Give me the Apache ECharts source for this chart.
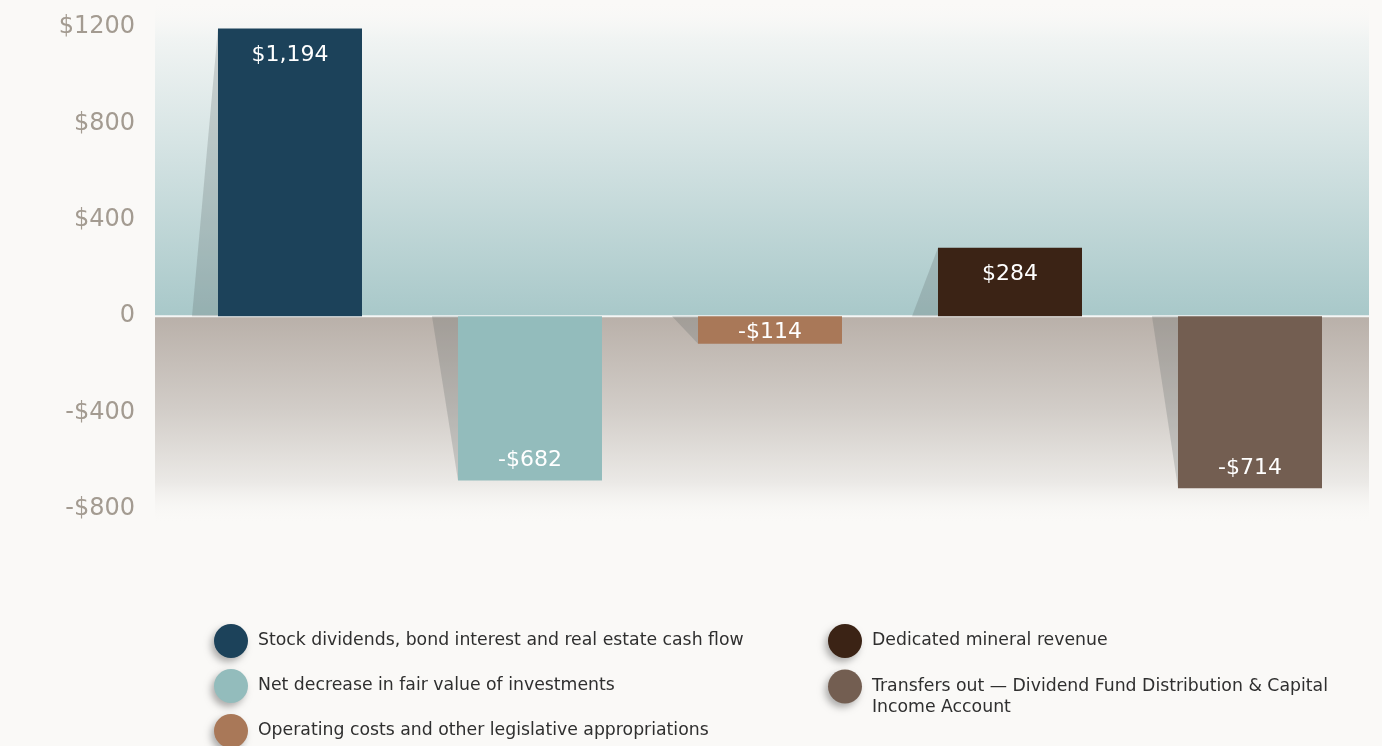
<!DOCTYPE html>
<html>
<head>
<meta charset="utf-8">
<script src="https://cdn.jsdelivr.net/npm/echarts@6/dist/echarts.min.js"></script>
<style>
html,body{margin:0;padding:0;background:#faf9f7;}
#c{width:1382px;height:746px;}
</style>
</head>
<body>
<div id="c"></div>
<script>
// ---- data ----
const categories = [
  'Stock dividends, bond interest and real estate cash flow',
  'Net decrease in fair value of investments',
  'Operating costs and other legislative appropriations',
  'Dedicated mineral revenue',
  'Transfers out \u2014 Dividend Fund Distribution & Capital Income Account'
];
const values = [1194, -682, -114, 284, -714];
const colors = ['#1c425a', '#93bcbc', '#a97858', '#3b2315', '#735e51'];
const yTicks = { min: -800, max: 1200, interval: 400 };

// ---- helpers ----
function money(v, commas) {
  if (v === 0) return '0';
  const a = Math.abs(v);
  const s = commas ? a.toLocaleString('en-US') : String(a);
  return (v < 0 ? '-$' : '$') + s;
}

const chart = echarts.init(document.getElementById('c'));
const barWidthRatio = 0.6;

const barSeries = categories.map((name, i) => {
  const v = values[i];
  const small = Math.abs(v) < 200;
  const pos = small ? 'inside' : (v >= 0 ? 'insideTop' : 'insideBottom');
  return {
    name: name,
    type: 'bar',
    z: 3,
    barWidth: (barWidthRatio * 100) + '%',
    barGap: '-100%',
    data: values.map((val, j) => (j === i ? val : '-')),
    itemStyle: { color: colors[i] },
    label: {
      show: true,
      position: pos,
      distance: v >= 0 ? 16 : 9,
      offset: small ? [0, 2] : [0, 0],
      color: '#ffffff',
      fontFamily: 'DejaVu Sans',
      fontSize: 22,
      formatter: p => money(p.value, true)
    }
  };
});

const shadowSeries = {
  type: 'custom',
  z: 2,
  silent: true,
  data: values.map((v, i) => [i, v]),
  renderItem: function (params, api) {
    const cat = api.value(0), val = api.value(1);
    const end = api.coord([cat, val]);
    const zero = api.coord([cat, 0]);
    const hw = api.size([1, 0])[0] * barWidthRatio / 2;
    const x = end[0] - hw;
    return {
      type: 'polygon',
      shape: { points: [[x, end[1]], [x - 26, zero[1]], [x, zero[1]]] },
      style: { fill: 'rgba(80,90,90,0.22)' }
    };
  }
};

const legendBase = {
  orient: 'vertical',
  icon: 'circle',
  padding: 0,
  height: 160,
  itemWidth: 34,
  itemHeight: 34,
  itemGap: 11,
  selectedMode: false,
  itemStyle: {
    shadowBlur: 7,
    shadowColor: 'rgba(0,0,0,0.3)',
    shadowOffsetX: -3,
    shadowOffsetY: 4
  },
  textStyle: {
    fontFamily: 'DejaVu Sans',
    fontSize: 17.3,
    color: '#2f2f2f',
    lineHeight: 21,
    padding: [0, 0, 0, 5]
  }
};

chart.setOption({
  backgroundColor: '#faf9f7',
  animation: false,
  grid: { left: 170, right: 12, top: 27, bottom: 237 },
  xAxis: {
    type: 'category',
    data: categories,
    axisLine: { show: false },
    axisTick: { show: false },
    axisLabel: { show: false },
    splitLine: { show: false }
  },
  yAxis: {
    type: 'value',
    min: yTicks.min,
    max: yTicks.max,
    interval: yTicks.interval,
    axisLine: { show: false },
    axisTick: { show: false },
    splitLine: { show: false },
    axisLabel: {
      margin: 35,
      color: '#a39b91',
      fontFamily: 'DejaVu Sans',
      fontSize: 24,
      formatter: v => money(v, false)
    }
  },
  legend: [
    Object.assign({}, legendBase, { left: 214, top: 624, data: categories.slice(0, 3) }),
    Object.assign({}, legendBase, { left: 828, top: 624, data: [categories[3]] }),
    Object.assign({}, legendBase, {
      left: 828, top: 655, data: [categories[4]],
      // leading blank line keeps the first text line level with the dot
      formatter: n => '\n' + n.replace('& Capital ', '& Capital\n')
    })
  ],
  series: barSeries.concat([shadowSeries])
});

// background panels tied to the value axis
const zeroY = chart.convertToPixel({ yAxisIndex: 0 }, 0);
const topY = chart.convertToPixel({ yAxisIndex: 0 }, yTicks.max);
const botY = chart.convertToPixel({ yAxisIndex: 0 }, yTicks.min);
const panelL = 155, panelR = 1369;
chart.setOption({
  graphic: [
    {
      type: 'rect', z: 0, silent: true,
      shape: { x: panelL, y: 0, width: panelR - panelL, height: zeroY },
      style: {
        fill: new echarts.graphic.LinearGradient(0, 0, 0, 1, [
          { offset: 0, color: 'rgba(250,249,247,0)' },
          { offset: (topY + 10) / zeroY, color: '#f1f4f3' },
          { offset: 0.45, color: '#d6e4e4' },
          { offset: 1, color: '#a8c8c9' }
        ])
      }
    },
    {
      type: 'rect', z: 0, silent: true,
      shape: { x: panelL, y: zeroY, width: panelR - panelL, height: botY - zeroY + 15 },
      style: {
        fill: new echarts.graphic.LinearGradient(0, 0, 0, 1, [
          { offset: 0, color: '#b9b0a9' },
          { offset: 0.45, color: '#d2cdc8' },
          { offset: 0.8, color: '#ebe9e6' },
          { offset: 1, color: 'rgba(250,249,247,0)' }
        ])
      }
    },
    {
      type: 'line', z: 1, silent: true,
      shape: { x1: panelL, y1: zeroY, x2: panelR, y2: zeroY },
      style: { stroke: '#f4f6f5', lineWidth: 2 }
    }
  ]
});
</script>
</body>
</html>
